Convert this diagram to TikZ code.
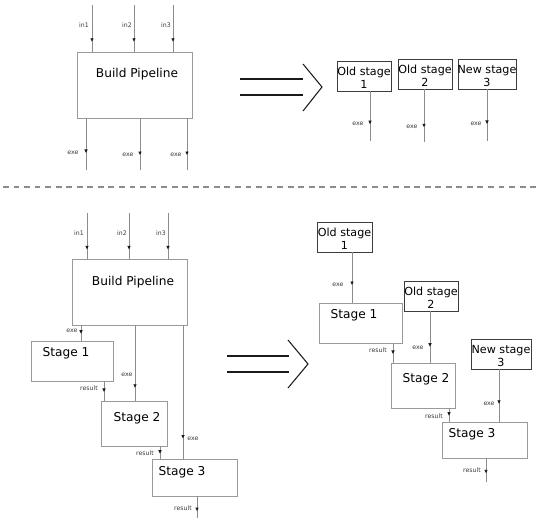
\documentclass[tikz,border=0pt]{standalone}
\usepackage{fontspec}
\setmainfont{DejaVu Sans}
\usetikzlibrary{arrows.meta,fit,decorations.markings}
\definecolor{ink}{HTML}{1A1A1A}
\definecolor{wire}{HTML}{8C8C8C}
\definecolor{frame}{HTML}{9A9A9A}
\definecolor{oldframe}{HTML}{3C3C3C}
\definecolor{note}{HTML}{3A3A3A}

\tikzset{
  pbox/.style={draw=frame,line width=0.8pt,inner sep=0pt},
  obox/.style={draw=oldframe,line width=0.8pt,inner sep=0pt},
  otext/.style={inner sep=0pt,align=center,yshift=-1.5pt,
                font=\fontsize{9.5}{11}\selectfont},
  btext/.style={font=\fontsize{10.4}{12}\selectfont,inner sep=0pt},
  lbl/.style={font=\fontsize{5.3}{6}\selectfont,text=note,inner sep=0pt},
  wireline/.style={draw=wire,line width=0.7pt},
  flow/.style={postaction={decorate},
               decoration={markings,mark=at position #1 with
                 {\arrow[ink]{Triangle[length=3pt,width=2.6pt]}}}},
  implies/.style={draw=ink,line width=0.9pt},
}

\begin{document}
\begin{tikzpicture}[x=0.03cm,y=-0.03cm]
  \useasboundingbox (0,0) rectangle (536,518);

  % ---- before: one build pipeline
  \node[pbox,fit={(77,52) (192,118)}] (bp) {};
  \node[btext] (bpt) at (137,74) {Build Pipeline};
  \coordinate (i1) at (92,5);
  \coordinate (i2) at (134,5);
  \coordinate (i3) at (173,5);
  \draw[wireline,flow=0.79] (i1) -- (i1 |- bp.north);
  \draw[wireline,flow=0.79] (i2) -- (i2 |- bp.north);
  \draw[wireline,flow=0.79] (i3) -- (i3 |- bp.north);
  \node[lbl] (li1) at (84,25) {in1};
  \node[lbl] (li2) at (127,25) {in2};
  \node[lbl] (li3) at (166,25) {in3};
  \coordinate (e1) at (86,170);
  \coordinate (e2) at (140,170);
  \coordinate (e3) at (187,170);
  \draw[wireline,flow=0.67] (bp.south -| e1) -- (e1);
  \draw[wireline,flow=0.71] (bp.south -| e2) -- (e2);
  \draw[wireline,flow=0.71] (bp.south -| e3) -- (e3);
  \node[lbl] (le1) at (73,153) {exe};
  \node[lbl] (le2) at (128,155) {exe};
  \node[lbl] (le3) at (176,155) {exe};

  \draw[implies] (240,79) -- (303,79);
  \draw[implies] (240,95) -- (303,95);
  \draw[implies] (303,64) -- (322,87) -- (303,111);

  \node[obox,fit={(337,61) (391,91)}] (o1) {};
  \node[obox,fit={(398,59) (452,89)}] (o2) {};
  \node[obox,fit={(458,59) (516,89)}] (o3) {};
  \node[otext] (o1t) at (o1.center) {Old stage\\1};
  \node[otext] (o2t) at (o2.center) {Old stage\\2};
  \node[otext] (o3t) at (o3.center) {New stage\\3};
  \coordinate (oe1) at (370,141);
  \coordinate (oe2) at (424,142);
  \coordinate (oe3) at (487,141);
  \draw[wireline,flow=0.66] (o1.south -| oe1) -- (oe1);
  \draw[wireline,flow=0.72] (o2.south -| oe2) -- (oe2);
  \draw[wireline,flow=0.67] (o3.south -| oe3) -- (oe3);
  \node[lbl] (loe1) at (358,124) {exe};
  \node[lbl] (loe2) at (412,127) {exe};
  \node[lbl] (loe3) at (476,124) {exe};

  \draw[draw=wire,line width=1.2pt,dash pattern=on 5pt off 4pt] (3,187) -- (536,187);

  % ---- after: pipeline split in stages
  \node[pbox,fit={(72,259) (187,325)}] (bq) {};
  \node[btext] (bqt) at (133,282) {Build Pipeline};
  \coordinate (j1) at (87,213);
  \coordinate (j2) at (129,213);
  \coordinate (j3) at (168,213);
  \draw[wireline,flow=0.8] (j1) -- (j1 |- bq.north);
  \draw[wireline,flow=0.8] (j2) -- (j2 |- bq.north);
  \draw[wireline,flow=0.8] (j3) -- (j3 |- bq.north);
  \node[lbl] (lj1) at (79,233) {in1};
  \node[lbl] (lj2) at (122,233) {in2};
  \node[lbl] (lj3) at (161,233) {in3};

  \node[pbox,fit={(31,341) (113,381)}] (s1) {};
  \node[btext] (s1t) at (66,353) {Stage 1};
  \node[pbox,fit={(101,401) (167,446)}] (s2) {};
  \node[btext] (s2t) at (137,418) {Stage 2};
  \node[pbox,fit={(152,459) (237,496)}] (s3) {};
  \node[btext] (s3t) at (182,472) {Stage 3};
  \coordinate (x1) at (81,0);
  \coordinate (x2) at (135,0);
  \coordinate (x3) at (183,0);
  \coordinate (r1) at (104,0);
  \coordinate (r2) at (160,0);
  \coordinate (r3) at (197,518);
  \draw[wireline,flow=0.55] (bq.south -| x1) -- (s1.north -| x1);
  \draw[wireline,flow=0.83] (bq.south -| x2) -- (s2.north -| x2);
  \draw[wireline,flow=0.85] (bq.south -| x3) -- (s3.north -| x3);
  \draw[wireline,flow=0.55] (s1.south -| r1) -- (s2.north -| r1);
  \draw[wireline,flow=0.6] (s2.south -| r2) -- (s3.north -| r2);
  \draw[wireline,flow=0.68] (s3.south -| r3) -- (r3);
  \node[lbl] (lx1) at (72,331) {exe};
  \node[lbl] (lx2) at (127,375) {exe};
  \node[lbl] (lx3) at (193,439) {exe};
  \node[lbl] (lr1) at (89,388) {result};
  \node[lbl] (lr2) at (145,453) {result};
  \node[lbl] (lr3) at (183,508) {result};

  \draw[implies] (227,356) -- (289,356);
  \draw[implies] (227,372) -- (289,372);
  \draw[implies] (288,340) -- (308,364) -- (288,388);

  \node[obox,fit={(317,222) (372,252)}] (p1) {};
  \node[obox,fit={(404,281) (458,311)}] (p2) {};
  \node[obox,fit={(471,339) (531,369)}] (p3) {};
  \node[otext] (p1t) at (p1.center) {Old stage\\1};
  \node[otext] (p2t) at (p2.center) {Old stage\\2};
  \node[otext] (p3t) at (p3.center) {New stage\\3};
  \node[pbox,fit={(319,303) (402,343)}] (t1) {};
  \node[btext] (t1t) at (354,315) {Stage 1};
  \node[pbox,fit={(391,363) (455,408)}] (t2) {};
  \node[btext] (t2t) at (426,379) {Stage 2};
  \node[pbox,fit={(442,422) (527,458)}] (t3) {};
  \node[btext] (t3t) at (472,434) {Stage 3};
  \coordinate (y1) at (352,0);
  \coordinate (y2) at (430,0);
  \coordinate (y3) at (499,0);
  \coordinate (q1) at (393,0);
  \coordinate (q2) at (449,0);
  \coordinate (q3) at (486,482);
  \draw[wireline,flow=0.65] (p1.south -| y1) -- (t1.north -| y1);
  \draw[wireline,flow=0.69] (p2.south -| y2) -- (t2.north -| y2);
  \draw[wireline,flow=0.66] (p3.south -| y3) -- (t3.north -| y3);
  \draw[wireline,flow=0.55] (t1.south -| q1) -- (t2.north -| q1);
  \draw[wireline,flow=0.55] (t2.south -| q2) -- (t3.north -| q2);
  \draw[wireline,flow=0.63] (t3.south -| q3) -- (q3);
  \node[lbl] (ly1) at (338,285) {exe};
  \node[lbl] (ly2) at (418,348) {exe};
  \node[lbl] (ly3) at (489,404) {exe};
  \node[lbl] (lq1) at (378,350) {result};
  \node[lbl] (lq2) at (434,416) {result};
  \node[lbl] (lq3) at (472,470) {result};
\end{tikzpicture}
\end{document}
